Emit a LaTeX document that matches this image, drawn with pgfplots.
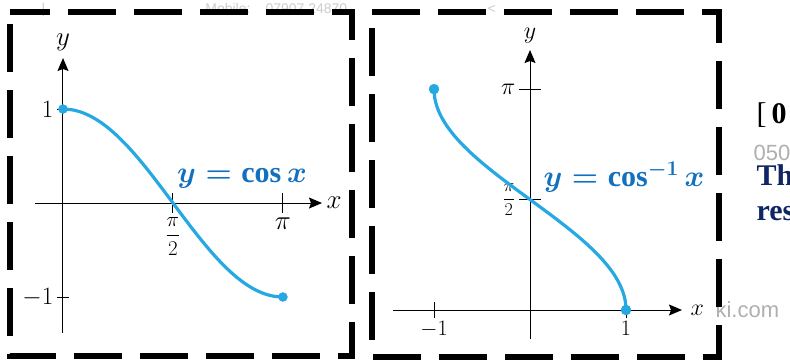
\RequirePackage{fix-cm}
\documentclass[border=0pt]{standalone}
\usepackage{fontspec}
\setmainfont{Liberation Serif}
\newfontfamily\graysans{Liberation Sans}
\usepackage{pgfplots}
\usepackage{pgfplotstable}
\pgfplotsset{compat=1.18}
\usetikzlibrary{arrows.meta}

\definecolor{curve}{RGB}{38,168,226}
\definecolor{eqblue}{RGB}{18,112,190}
\definecolor{navy}{RGB}{14,38,100}
\definecolor{wmgray}{RGB}{175,175,175}
\definecolor{wmlight}{RGB}{205,205,205}

% t and cos(t) for t = 0 ... pi in steps of pi/24
\pgfplotstableread{
t c
0.0000 1.00000
0.1309 0.99144
0.2618 0.96593
0.3927 0.92388
0.5236 0.86603
0.6545 0.79335
0.7854 0.70711
0.9163 0.60876
1.0472 0.50000
1.1781 0.38268
1.3090 0.25882
1.4399 0.13053
1.5708 0.00000
1.7017 -0.13053
1.8326 -0.25882
1.9635 -0.38268
2.0944 -0.50000
2.2253 -0.60876
2.3562 -0.70711
2.4871 -0.79335
2.6180 -0.86603
2.7489 -0.92388
2.8798 -0.96593
3.0107 -0.99144
3.1416 -1.00000
}\cosdata

\pgfplotsset{
  mathplot/.style={
    scale only axis,
    anchor=south west,
    axis lines=middle,
    axis line style={line width=1pt,-{Stealth[length=13pt,width=11pt,inset=2pt]}},
    tick align=center,
    clip=false,
    enlargelimits=false,
    every axis x label/.style={at={(current axis.right of origin)}, anchor=west},
    every axis y label/.style={at={(current axis.above origin)}, anchor=south},
  },
}

\begin{document}
\begin{tikzpicture}[x=1pt,y=1pt]
\useasboundingbox (0,0) rectangle (790,360);
\fill[white] (0,0) rectangle (790,360);
\clip (0,0) rectangle (790,360);

% faint text along the top edge
\begin{scope}[wmlight, font=\graysans\fontsize{14}{17}\selectfont]
\node[anchor=base west] at (38,347) {|};
\node[anchor=base east] at (254,347) {Mobile:};
\node[anchor=base west] at (262,347) {07907 24870};
\node[anchor=base west] at (484,347) {<};
\end{scope}

% text to the right of the second frame
\node[anchor=base west, font=\fontsize{30}{36}\selectfont] at (753,237) {[\,\textbf{0}};
\node[anchor=base west, wmgray, font=\graysans\fontsize{22}{26}\selectfont] at (750,200) {050};
\node[anchor=base west, navy, font=\bfseries\fontsize{30}{36}\selectfont] at (753,175) {The};
\node[anchor=base west, navy, font=\bfseries\fontsize{30}{36}\selectfont] at (753,140) {res};
\node[anchor=base west, wmgray, font=\graysans\fontsize{22}{26}\selectfont] at (712,43) {ki.com};

% y = cos x
\begin{axis}[mathplot,
  at={(35pt,27pt)}, width=287pt, height=275pt,
  xmin=-0.4, xmax=3.7, ymin=-1.383, ymax=1.543,
  xtick={1.5708,3.1416},
  xticklabels={{\fontsize{21}{25}\selectfont$\displaystyle\frac{\pi}{2}$},{\fontsize{27}{30}\selectfont$\pi$}},
  ytick={-1,1}, yticklabels={$-1$,$1$},
  xtick style={/pgfplots/major tick length=20pt, line width=1pt, black},
  ytick style={/pgfplots/major tick length=12pt, line width=1pt, black},
  tick label style={font=\fontsize{25}{28}\selectfont},
  xticklabel style={yshift=-9pt},
  yticklabel style={xshift=-4pt},
  xlabel={$x$}, ylabel={$y$},
  label style={font=\fontsize{27}{30}\selectfont},
  xlabel style={xshift=1pt},
  ylabel style={yshift=4pt},
]
\addplot[curve, line width=3.2pt, smooth] table[x=t, y=c] {\cosdata};
\addplot[curve, only marks, mark=*, mark size=4.5pt] coordinates {(0,1) (3.1416,-1)};
\end{axis}

% y = arccos x
\begin{axis}[mathplot,
  at={(393pt,21pt)}, width=289pt, height=289pt,
  xmin=-1.427, xmax=1.583, ymin=-0.4125, ymax=3.698,
  xtick={-1,1}, xticklabels={$-1$,$1$},
  ytick={1.5708,3.1416},
  yticklabels={{\fontsize{18}{22}\selectfont$\displaystyle\frac{\pi}{2}$},{\fontsize{24}{27}\selectfont$\pi$}},
  xtick style={/pgfplots/major tick length=16pt, line width=1pt, black},
  ytick style={/pgfplots/major tick length=22pt, line width=1pt, black},
  tick label style={font=\fontsize{22}{25}\selectfont},
  xticklabel style={yshift=-6pt},
  yticklabel style={xshift=-9pt},
  xlabel={$x$}, ylabel={$y$},
  label style={font=\fontsize{24}{27}\selectfont},
  xlabel style={xshift=5pt},
  ylabel style={yshift=3pt},
]
\addplot[curve, line width=3.2pt, smooth] table[x=c, y=t] {\cosdata};
\addplot[curve, only marks, mark=*, mark size=5pt] coordinates {(-1,3.1416) (1,0)};
\end{axis}

% equation labels
\node[eqblue, font=\fontsize{30}{36}\selectfont\boldmath] at (242,182) {$y=\cos x$};
\node[eqblue, font=\fontsize{30}{36}\selectfont\boldmath] at (624,183) {$y=\cos^{-1}x$};

% dashed frames
\draw[line width=6pt, dash pattern=on 48pt off 18pt, dash phase=8pt, line join=miter]
  (10,348) -- (352,348) -- (352,4) -- (10,4) -- cycle;
\draw[line width=6pt, dash pattern=on 48pt off 18pt, line join=miter]
  (372,348) -- (719,348) -- (719,3) -- (372,3) -- cycle;
\end{tikzpicture}
\end{document}
